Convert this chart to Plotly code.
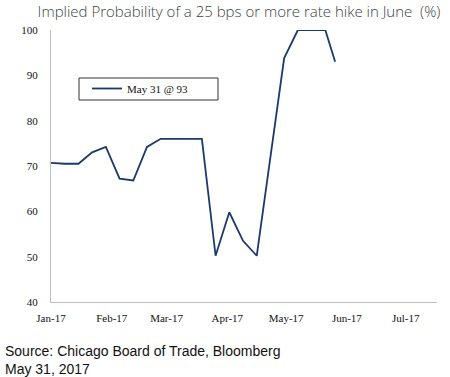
import plotly.graph_objects as go

dates = ["2017-01-01", "2017-01-08", "2017-01-15", "2017-01-22", "2017-01-29",
         "2017-02-05", "2017-02-12", "2017-02-19", "2017-02-26", "2017-03-05",
         "2017-03-12", "2017-03-19", "2017-03-26", "2017-04-02", "2017-04-09",
         "2017-04-16", "2017-04-23", "2017-04-30", "2017-05-07", "2017-05-14",
         "2017-05-21", "2017-05-26"]
probability = [70.7, 70.5, 70.5, 73.0, 74.2, 67.2, 66.8, 74.2, 76.0, 76.0,
               76.0, 76.0, 50.2, 59.8, 53.5, 50.2, 72.0, 93.8, 100.0, 100.0,
               100.0, 93.0]
series_name = "May 31 @ 93"
title_text = "Implied Probability of a 25 bps or more rate hike in June  (%)"
source_text = "Source: Chicago Board of Trade, Bloomberg<br>May 31, 2017"

W, H = 450, 377
L, R, T, B = 51, 13, 30, 75
pw, ph = W - L - R, H - T - B

def px(x):
    return (x - L) / pw

def py(y):
    return (H - B - y) / ph

fig = go.Figure()
fig.add_trace(go.Scatter(x=dates, y=probability, mode="lines", name=series_name,
                         line=dict(color="#1a3a6c", width=1.8)))

serif = "Liberation Serif, Times New Roman, serif"
fig.update_layout(
    width=W, height=H,
    margin=dict(l=L, r=R, t=T, b=B, autoexpand=False),
    plot_bgcolor="white", paper_bgcolor="white",
    showlegend=True,
    legend=dict(x=px(87), y=py(74), xanchor="left", yanchor="top",
                bgcolor="rgba(0,0,0,0)", borderwidth=0,
                font=dict(family=serif, size=11, color="#111"),
                itemwidth=30),
    title=dict(text=title_text, xref="container", x=239 / W, xanchor="center",
               yref="container", y=1 - 12 / H, yanchor="middle",
               font=dict(family="Open Sans, sans-serif", size=15, color="#3a3f47", weight=300)),
    xaxis=dict(type="date", range=["2017-01-01", "2017-07-17"], dtick="M1",
               tick0="2017-01-01", tickformat="%b-%y", showgrid=False,
               showline=True, linecolor="#bfbfbf", linewidth=1, ticks="",
               tickfont=dict(family=serif, size=11, color="#111"),
               ticklabelstandoff=6, zeroline=False, automargin=False),
    yaxis=dict(range=[40, 100], dtick=10, showgrid=False, showline=True,
               linecolor="#bfbfbf", linewidth=1, ticks="",
               tickfont=dict(family=serif, size=11, color="#111"),
               ticklabelstandoff=10, zeroline=False, automargin=False),
    shapes=[dict(type="rect", xref="paper", yref="paper",
                 x0=px(79), x1=px(218), y0=py(100), y1=py(78),
                 line=dict(color="#333", width=1))],
    annotations=[dict(text=source_text, xref="paper", yref="paper",
                      x=px(3), y=py(341), xanchor="left", yanchor="top",
                      align="left", showarrow=False,
                      font=dict(family="Liberation Sans, Arial, sans-serif", size=14, color="#111"))],
)

fig.write_html("out.html", config={"displayModeBar": False},
               post_script="document.body.style.margin='0';document.body.style.overflow='hidden';")
